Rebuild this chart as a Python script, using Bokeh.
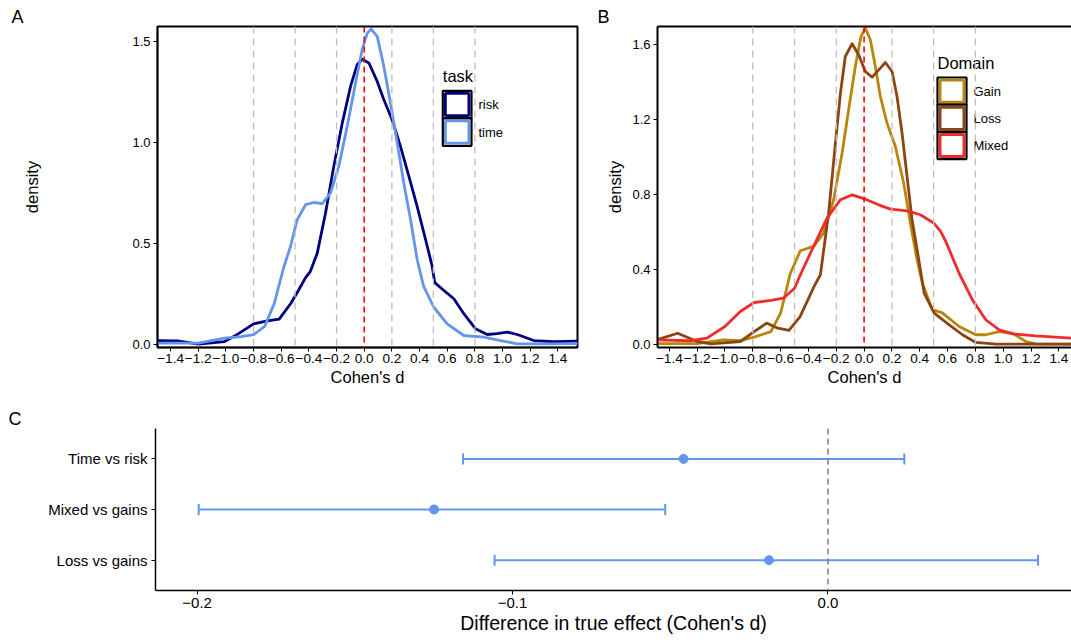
from bokeh.plotting import figure
from bokeh.layouts import column, row
from bokeh.models import (Span, FixedTicker, LinearAxis, Whisker, TeeHead,
                          ColumnDataSource, Range1d)
from bokeh.core.properties import value
from bokeh.embed import file_html
from bokeh.resources import INLINE

FONT = "Liberation Sans"

# ---------------- data ----------------
# Panel A: density of Cohen's d by task
risk_x = [-1.49, -1.35, -1.2, -1.01, -0.92, -0.8, -0.7, -0.615, -0.53, -0.48, -0.424, -0.39,
          -0.34, -0.28, -0.22, -0.159, -0.099, -0.051, -0.015, 0.034, 0.094, 0.142, 0.202,
          0.262, 0.323, 0.383, 0.443, 0.49, 0.51, 0.576, 0.648, 0.72, 0.805, 0.889, 0.96,
          1.034, 1.106, 1.226, 1.371, 1.542]
risk_y = [0.017, 0.016, 0.0, 0.013, 0.047, 0.101, 0.116, 0.124, 0.203, 0.261, 0.33, 0.36,
          0.45, 0.649, 0.881, 1.095, 1.277, 1.385, 1.412, 1.393, 1.302, 1.211, 1.112,
          0.98, 0.831, 0.682, 0.52, 0.39, 0.305, 0.266, 0.225, 0.151, 0.076, 0.048, 0.052,
          0.06, 0.048, 0.018, 0.012, 0.015]
time_x = [-1.49, -1.2, -1.01, -0.89, -0.8, -0.72, -0.65, -0.58, -0.533, -0.485, -0.424,
          -0.364, -0.304, -0.244, -0.184, -0.123, -0.063, -0.015, 0.022, 0.05, 0.094, 0.142,
          0.19, 0.239, 0.286, 0.335, 0.383, 0.43, 0.503, 0.6, 0.72, 0.865, 0.986, 1.106, 1.3,
          1.542]
time_y = [0.005, 0.005, 0.03, 0.038, 0.047, 0.088, 0.203, 0.385, 0.484, 0.616, 0.691,
          0.702, 0.696, 0.748, 0.881, 1.079, 1.293, 1.459, 1.541, 1.561, 1.525, 1.376,
          1.194, 0.996, 0.798, 0.616, 0.418, 0.286, 0.183, 0.101, 0.043, 0.035, 0.018, 0.002,
          0.002, 0.003]

# Panel B: density of Cohen's d by domain
gain_x = [-1.49, -1.2, -1.01, -0.89, -0.79, -0.67, -0.6, -0.53, -0.458, -0.363, -0.291,
          -0.219, -0.158, -0.111, -0.063, -0.022, 0.009, 0.045, 0.081, 0.117, 0.165, 0.225,
          0.285, 0.333, 0.381, 0.419, 0.491, 0.56, 0.683, 0.803, 0.875, 0.971, 1.067, 1.163,
          1.235, 1.49]
gain_y = [0.005, 0.005, 0.025, 0.02, 0.039, 0.069, 0.167, 0.38, 0.5, 0.523, 0.594,
          0.772, 1.02, 1.252, 1.483, 1.643, 1.687, 1.625, 1.483, 1.323, 1.18, 1.056,
          0.86, 0.647, 0.452, 0.327, 0.185, 0.17, 0.096, 0.052, 0.052, 0.069, 0.06, 0.016,
          0.003, 0.002]
loss_x = [-1.49, -1.34, -1.2, -1.1, -0.89, -0.79, -0.7, -0.62, -0.54, -0.46, -0.36, -0.314,
          -0.255, -0.206, -0.17, -0.135, -0.086, -0.039, 0.009, 0.058, 0.105, 0.153, 0.201,
          0.237, 0.273, 0.309, 0.345, 0.393, 0.432, 0.504, 0.612, 0.707, 0.803, 0.95, 1.49]
loss_y = [0.025, 0.06, 0.016, 0.003, 0.016, 0.069, 0.114, 0.087, 0.075, 0.149, 0.309, 0.372,
          0.7, 1.074, 1.34, 1.536, 1.604, 1.545, 1.456, 1.426, 1.465, 1.504, 1.456,
          1.323, 1.127, 0.896, 0.665, 0.452, 0.274, 0.167, 0.105, 0.052, 0.011, 0.002, 0.002]
mixed_x = [-1.49, -1.25, -1.13, -1.0, -0.89, -0.79, -0.67, -0.58, -0.5, -0.458, -0.363,
           -0.266, -0.17, -0.086, 0.009, 0.105, 0.189, 0.309, 0.405, 0.501, 0.549, 0.587,
           0.683, 0.779, 0.875, 0.971, 1.067, 1.235, 1.49]
mixed_y = [0.025, 0.02, 0.034, 0.096, 0.176, 0.224, 0.235, 0.247, 0.3, 0.372, 0.523,
           0.674, 0.772, 0.798, 0.775, 0.745, 0.722, 0.713, 0.692, 0.647, 0.605, 0.55,
           0.38, 0.238, 0.132, 0.078, 0.057, 0.046, 0.034]

ref_lines = [-0.8, -0.5, -0.2, 0.2, 0.5, 0.8]
density_x_ticks = [-1.4, -1.2, -1.0, -0.8, -0.6, -0.4, -0.2, 0.0, 0.2, 0.4, 0.6, 0.8, 1.0, 1.2, 1.4]
density_x_labels = ["\u22121.4", "\u22121.2", "\u22121.0", "\u22120.8", "\u22120.6", "\u22120.4",
                    "\u22120.2", "0.0", "0.2", "0.4", "0.6", "0.8", "1.0", "1.2", "1.4"]
a_y_ticks = [0.0, 0.5, 1.0, 1.5]
a_y_labels = ["0.0", "0.5", "1.0", "1.5"]
b_y_ticks = [0.0, 0.4, 0.8, 1.2, 1.6]
b_y_labels = ["0.0", "0.4", "0.8", "1.2", "1.6"]

task_labels = ["risk", "time"]
task_colors = ["#000080", "#6495ED"]
domain_labels = ["Gain", "Loss", "Mixed"]
domain_colors = ["#B8860B", "#8B4513", "#EE2C2C"]

# Panel C: differences in true effect
cmp_labels = ["Loss vs gains", "Mixed vs gains", "Time vs risk"]
cmp_est = [-0.0187, -0.1249, -0.0458]
cmp_lo = [-0.1057, -0.1995, -0.1157]
cmp_hi = [0.0666, -0.0516, 0.0242]
c_x_ticks = [-0.2, -0.1, 0.0]
c_x_labels = ["\u22120.2", "\u22120.1", "0.0"]


# ---------------- helpers ----------------
def style_axes(p, tick_size, title_size):
    for ax in p.xaxis + p.yaxis:
        ax.major_label_text_font = FONT
        ax.major_label_text_font_size = tick_size
        ax.major_label_text_color = "black"
        ax.axis_label_text_font = FONT
        ax.axis_label_text_font_size = title_size
        ax.axis_label_text_font_style = "normal"
        ax.axis_label_text_color = "black"
        ax.axis_line_color = "black"
        ax.axis_line_width = 1.5
        ax.major_tick_line_color = "black"
        ax.major_tick_line_width = 1
        ax.major_tick_out = 4
        ax.major_tick_in = 0
        ax.minor_tick_line_color = None
    p.xgrid.visible = False
    p.ygrid.visible = False


def panel_letter(p, text, offset):
    p.title.text = text
    p.title.align = "left"
    p.title.offset = offset
    p.title.standoff = 0
    p.title.text_font = FONT
    p.title.text_font_size = "18px"
    p.title.text_font_style = "normal"
    p.title.text_color = "black"


def make_conv(frame_left, frame_top, fw, fh, xr, yr):
    def conv(px, py):
        x = xr[0] + (px - frame_left) / fw * (xr[1] - xr[0])
        y = yr[1] - (py - frame_top) / fh * (yr[1] - yr[0])
        return x, y
    return conv


def draw_legend(p, conv, title, labels, colors, box_left, title_y, box_top, key_w, key_h, label_x):
    tx, ty = conv(box_left, title_y)
    p.text(x=[tx], y=[ty], text=[title], text_font=value(FONT), text_font_size="16.5px",
           text_baseline="middle", text_align="left", text_color="black")
    for i, (lab, col) in enumerate(zip(labels, colors)):
        top = box_top + i * key_h
        bot = top + key_h
        l, t = conv(box_left, top)
        r, b = conv(box_left + key_w, bot)
        p.quad(left=[l], right=[r], top=[t], bottom=[b], fill_color="white",
               line_color="black", line_width=2.2)
        li, ti = conv(box_left + 2.6, top + 2.6)
        ri, bi = conv(box_left + key_w - 2.6, bot - 2.6)
        p.quad(left=[li], right=[ri], top=[ti], bottom=[bi], fill_color=None,
               line_color=col, line_width=2.8)
        lx, ly = conv(label_x, top + key_h / 2)
        p.text(x=[lx], y=[ly], text=[lab], text_font=value(FONT), text_font_size="13px",
               text_baseline="middle", text_align="left", text_color="black")


def density_line(p, xs, ys, color):
    p.line(xs, ys, line_color=color, line_width=2.8, line_join="round", line_cap="round")


# ---------------- Panel A ----------------
a_xr = (-1.4946, 1.542)
a_yr = (-0.0164, 1.574)
pA = figure(width=590, height=395, x_range=Range1d(*a_xr), y_range=Range1d(*a_yr),
            output_backend="svg", toolbar_location=None,
            min_border_left=157, min_border_right=13, min_border_top=26, min_border_bottom=48,
            x_axis_label="Cohen's d", y_axis_label="density")
pA.outline_line_color = "black"
pA.outline_line_width = 2
style_axes(pA, "13px", "16.5px")
pA.xaxis.major_label_text_font_size = "13.6px"
pA.xaxis.ticker = FixedTicker(ticks=density_x_ticks)
pA.xaxis.major_label_overrides = dict(zip(density_x_ticks, density_x_labels))
pA.yaxis.ticker = FixedTicker(ticks=a_y_ticks)
pA.yaxis.major_label_overrides = dict(zip(a_y_ticks, a_y_labels))
pA.xaxis.major_label_standoff = 2
pA.xaxis.axis_label_standoff = 2
pA.yaxis.major_label_standoff = 3
pA.yaxis.axis_label_standoff = 88
panel_letter(pA, "A", 11 - 157)

density_line(pA, risk_x, risk_y, task_colors[0])
density_line(pA, time_x, time_y, task_colors[1])
for v in ref_lines:
    pA.add_layout(Span(location=v, dimension="height", line_color="#BEBEBE",
                       line_width=1.3, line_dash="7 5"))
pA.add_layout(Span(location=0, dimension="height", line_color="red", line_width=1.6,
                   line_dash="6 4"))
convA = make_conv(157, 26, 420, 321, a_xr, a_yr)
draw_legend(pA, convA, "task", task_labels, task_colors, 442.3, 75, 90.3, 28.7, 27.5, 478)

# ---------------- Panel B ----------------
b_xr = (-1.485, 1.491)
b_yr = (-0.016, 1.696)
pB = figure(width=481, height=395, x_range=Range1d(*b_xr), y_range=Range1d(*b_yr),
            output_backend="svg", toolbar_location=None,
            min_border_left=67, min_border_right=0, min_border_top=26, min_border_bottom=48,
            x_axis_label="Cohen's d", y_axis_label="density")
pB.outline_line_color = None
bottomB = pB.below[0]
leftB = pB.left[0]
style_axes(pB, "13px", "16.5px")
bottomB.major_label_text_font_size = "13.6px"
bottomB.ticker = FixedTicker(ticks=density_x_ticks)
bottomB.major_label_overrides = dict(zip(density_x_ticks, density_x_labels))
leftB.ticker = FixedTicker(ticks=b_y_ticks)
leftB.major_label_overrides = dict(zip(b_y_ticks, b_y_labels))
bottomB.major_label_standoff = 2
bottomB.axis_label_standoff = 2
leftB.major_label_standoff = 3
leftB.axis_label_standoff = 5
leftB.axis_line_width = 2
bottomB.axis_line_width = 2
top_axis = LinearAxis(ticker=FixedTicker(ticks=[]), axis_line_color="black", axis_line_width=2,
                      major_tick_line_color=None, minor_tick_line_color=None,
                      major_label_text_font_size="0px", major_tick_out=0, major_tick_in=0,
                      major_label_standoff=0, axis_label_standoff=0)
pB.add_layout(top_axis, "above")
panel_letter(pB, "B", 597 - 657)

density_line(pB, gain_x, gain_y, domain_colors[0])
density_line(pB, loss_x, loss_y, domain_colors[1])
density_line(pB, mixed_x, mixed_y, domain_colors[2])
for v in ref_lines:
    pB.add_layout(Span(location=v, dimension="height", line_color="#BEBEBE",
                       line_width=1.3, line_dash="7 5"))
pB.add_layout(Span(location=0, dimension="height", line_color="red", line_width=1.6,
                   line_dash="6 4"))
convB = make_conv(657, 26, 414, 321, b_xr, b_yr)
draw_legend(pB, convB, "Domain", domain_labels, domain_colors, 937, 62.5, 77, 29, 27.2, 973)

# ---------------- Panel C ----------------
c_xr = (-0.2132, 0.0772)
c_y = [i + 1 for i in range(len(cmp_labels))]
pC = figure(width=1071, height=245, x_range=Range1d(*c_xr), y_range=Range1d(0.4, 3.6),
            output_backend="svg", toolbar_location=None,
            min_border_left=155, min_border_right=0, min_border_top=33, min_border_bottom=50,
            x_axis_label="Difference in true effect (Cohen's d)")
pC.outline_line_color = None
style_axes(pC, "15px", "19.5px")
pC.xaxis.ticker = FixedTicker(ticks=c_x_ticks)
pC.xaxis.major_label_overrides = dict(zip(c_x_ticks, c_x_labels))
pC.yaxis.ticker = FixedTicker(ticks=c_y)
pC.yaxis.major_label_overrides = dict(zip(c_y, cmp_labels))
pC.xaxis.major_label_standoff = 3
pC.xaxis.axis_label_standoff = 1
pC.yaxis.major_label_standoff = 4
panel_letter(pC, "C", 8 - 155)

pC.add_layout(Span(location=0, dimension="height", line_color="#7F7F7F", line_width=1.5,
                   line_dash="6 4"))
src = ColumnDataSource(dict(y=c_y, est=cmp_est, lo=cmp_lo, hi=cmp_hi))
blue = "#6495ED"
pC.add_layout(Whisker(source=src, base="y", lower="lo", upper="hi", dimension="width",
                      line_color=blue, line_width=2,
                      upper_head=TeeHead(size=11, line_color=blue, line_width=2),
                      lower_head=TeeHead(size=11, line_color=blue, line_width=2)))
pC.scatter(x="est", y="y", source=src, size=9, color=blue)

layout = column(row(pA, pB), pC)
open("out.html", "w").write(file_html(layout, INLINE))
